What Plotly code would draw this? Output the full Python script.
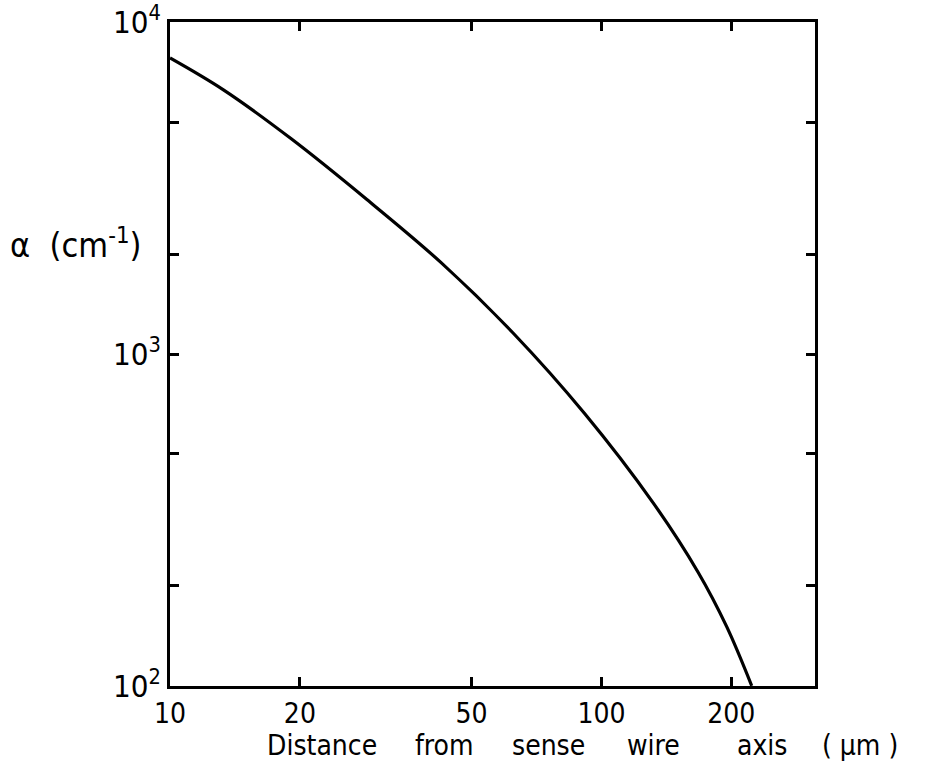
import plotly.graph_objects as go

# Data (log-log curve)
distance_um = [10, 13.3, 19.1, 28.6, 42.5, 62.4, 91.2, 131.8, 167.5, 195, 223]
alpha_cm = [7800, 6250, 4450, 2920, 1885, 1157, 664, 356, 220, 151, 100]

x_tickvals = [10, 20, 50, 100, 200]
x_ticktext = ["10", "20", "50", "100", "200"]
y_tickvals = [100, 200, 500, 1000, 2000, 5000, 10000]
y_ticktext = ["10<sup>2</sup>", "", "", "10<sup>3</sup>", "", "", "10<sup>4</sup>"]

title_words = ["Distance", "from", "sense", "wire", "axis", "(\u00a0µm\u00a0)"]
title_word_px = [265, 413, 510, 625, 735, 820]

FONT = "Liberation Sans Narrow, DejaVu Sans Condensed, sans-serif"
L, R, T, B = 170, 111, 22, 85
PW = 926 - L - R
PH = 771 - T - B

fig = go.Figure()
fig.add_trace(go.Scatter(x=distance_um, y=alpha_cm, mode="lines",
                         line=dict(color="black", width=3.2, shape="spline", smoothing=1.0),
                         showlegend=False, hoverinfo="skip"))

fig.update_layout(
    width=926, height=771,
    margin=dict(l=L, r=R, t=T, b=B, autoexpand=False),
    paper_bgcolor="white", plot_bgcolor="white",
    font=dict(family=FONT, color="black", size=28),
)
fig.update_xaxes(type="log", range=[1, 2.495], automargin=False,
                 tickvals=x_tickvals, ticktext=x_ticktext,
                 ticks="inside", ticklen=9, tickwidth=2.5, tickcolor="black",
                 showline=True, linecolor="black", linewidth=3, mirror="ticks",
                 showgrid=False, zeroline=False,
                 tickfont=dict(family=FONT, size=28, color="black"))
fig.update_yaxes(type="log", range=[1.9995, 4.0005], automargin=False,
                 tickvals=y_tickvals, ticktext=y_ticktext,
                 ticks="inside", ticklen=9, tickwidth=3, tickcolor="black",
                 showline=True, linecolor="black", linewidth=3, mirror="ticks",
                 showgrid=False, zeroline=False,
                 tickfont=dict(family=FONT, size=31, color="black"))

fig.add_annotation(text="α\u00a0\u00a0(cm<sup>-1</sup>)", xref="paper", yref="paper",
                   x=(8 - L) / PW, y=1 - (243 - T) / PH, xanchor="left", yanchor="middle",
                   showarrow=False, font=dict(family=FONT, size=34, color="black"))
for w, px in zip(title_words, title_word_px):
    fig.add_annotation(text=w, xref="paper", yref="paper",
                       x=(px - L) / PW, y=-(745 - (771 - B)) / PH,
                       xanchor="left", yanchor="middle",
                       showarrow=False, font=dict(family=FONT, size=28, color="black"))

fig.write_html("out.html")
